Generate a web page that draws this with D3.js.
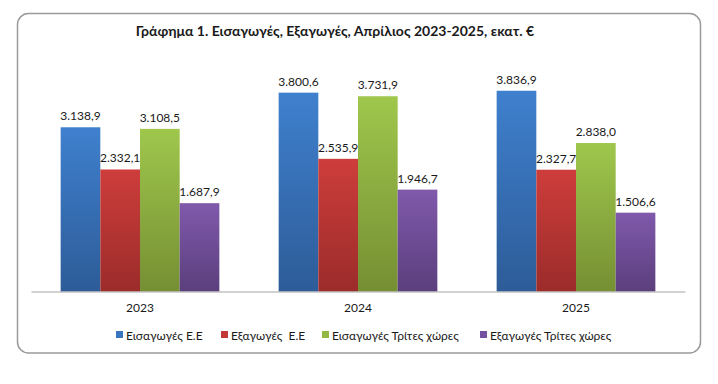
<!DOCTYPE html>
<html>
<head>
<meta charset="utf-8">
<script src="https://cdn.jsdelivr.net/npm/d3@7/dist/d3.min.js"></script>
<style>
  html, body { margin: 0; padding: 0; background: #fff; }
  svg { display: block; }
  text { font-family: "Liberation Sans Narrow", "Lato", "Liberation Sans", sans-serif; fill: #1a1a1a; }
</style>
</head>
<body>
<svg id="chart" width="718" height="384"></svg>
<script>
const categories = ["2023", "2024", "2025"];
const seriesNames = ["Εισαγωγές Ε.Ε", "Εξαγωγές  Ε.Ε", "Εισαγωγές Τρίτες χώρες", "Εξαγωγές Τρίτες χώρες"];
const importsEU = [3138.9, 3800.6, 3836.9];
const exportsEU = [2332.1, 2535.9, 2327.7];
const importsThird = [3108.5, 3731.9, 2838.0];
const exportsThird = [1687.9, 1946.7, 1506.6];
const seriesValues = [importsEU, exportsEU, importsThird, exportsThird];
const titleText = "Γράφημα 1. Εισαγωγές, Εξαγωγές, Απρίλιος 2023-2025, εκατ. €";

const colorsTop = ["#3f80ce", "#cd3d3b", "#9fc74c", "#8059ab"];
const colorsBottom = ["#2d5c98", "#9b2c2a", "#758f33", "#5b3f7d"];
const legendColors = ["#3a75c0", "#c23836", "#92b843", "#75529f"];

const fmt = v => {
  const s = v.toFixed(1).split(".");
  return s[0].replace(/\B(?=(\d{3})+(?!\d))/g, ".") + "," + s[1];
};

const svg = d3.select("#chart");
const defs = svg.append("defs");
colorsTop.forEach((c, i) => {
  const g = defs.append("linearGradient").attr("id", "grad" + i)
    .attr("x1", 0).attr("y1", 0).attr("x2", 0).attr("y2", 1);
  g.append("stop").attr("offset", "0%").attr("stop-color", c);
  g.append("stop").attr("offset", "100%").attr("stop-color", colorsBottom[i]);
});

// frame
svg.append("rect").attr("x", 17.5).attr("y", 13.5).attr("width", 683).attr("height", 339.5)
  .attr("rx", 11).attr("ry", 11).attr("fill", "#fff").attr("stroke", "#9a9a9a").attr("stroke-width", 1.5);

// title
svg.append("text").attr("x", 335).attr("y", 36).attr("text-anchor", "middle")
  .style("font-size", "14px").style("font-weight", "bold").text(titleText);

const baseline = 291.5;
const x0 = d3.scaleBand().domain(categories).range([31, 685]).paddingInner(0.272).paddingOuter(0.136);
const x1 = d3.scaleBand().domain(d3.range(seriesNames.length)).range([0, x0.bandwidth()]);
const y = d3.scaleLinear().domain([0, 4500]).range([baseline, baseline - 4500 * 0.05232]);

const groups = svg.append("g").selectAll("g").data(categories).join("g")
  .attr("transform", d => `translate(${x0(d)},0)`);

groups.each(function(cat, ci) {
  const g = d3.select(this);
  seriesValues.forEach((vals, si) => {
    const v = vals[ci];
    g.append("rect").attr("x", x1(si)).attr("y", y(v)).attr("width", x1.bandwidth())
      .attr("height", baseline - y(v)).attr("fill", `url(#grad${si})`);
    g.append("text").attr("x", x1(si) + x1.bandwidth() / 2).attr("y", y(v) - 7)
      .attr("text-anchor", "middle").style("font-size", "12px").text(fmt(v));
  });
});

// axis line
const xAxis = d3.axisBottom(x0).tickSize(0).tickPadding(12);
const ax = svg.append("g").attr("transform", `translate(0,${baseline})`).call(xAxis);
ax.select(".domain").attr("stroke", "#a6a6a6").attr("stroke-width", 1.2);
ax.selectAll("text").style("font-size", "12px").attr("fill", "#1a1a1a")
  .style("font-family", "\"Liberation Sans Narrow\", \"Lato\", sans-serif");

// legend
const legendX = [116, 221, 322, 480];
const lg = svg.append("g").selectAll("g").data(seriesNames).join("g")
  .attr("transform", (d, i) => `translate(${legendX[i]},335)`);
lg.append("rect").attr("x", 0).attr("y", -4).attr("width", 7).attr("height", 7)
  .attr("fill", (d, i) => legendColors[i]);
lg.append("text").attr("x", 10).attr("y", 4.5).style("font-size", "12px")
  .style("white-space", "pre").text(d => d);
</script>
</body>
</html>
